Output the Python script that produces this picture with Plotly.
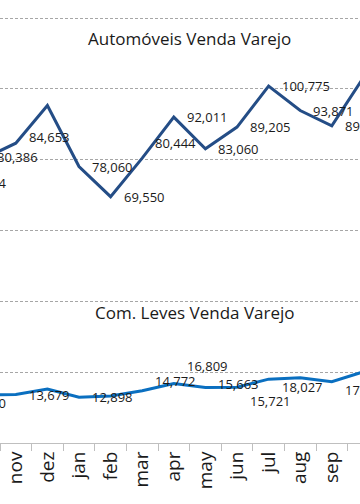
import plotly.graph_objects as go

months = ["sep", "oct", "nov", "dez", "jan", "feb", "mar", "apr", "may", "jun", "jul", "aug", "sep", "oct"]
autos = [72834, 80386, 84653, 95300, 78060, 69550, 80444, 92011, 83060, 89205, 100775, 93871, 89540, 103200]
leves = [10830, 13540, 13679, 15250, 12898, 13260, 14772, 16809, 15663, 15721, 18027, 18420, 17290, 20100]

# which points carry a visible data label, and their vertical nudge (px, + = up)
autos_label_shift = {0: 0, 1: 0, 2: 6, 4: 0, 5: 0, 6: 15, 7: 0, 8: 0, 9: 0, 10: 0, 11: 0, 12: 0}
leves_label_shift = {0: 0, 2: 0, 4: 0, 6: 10, 7: 17, 8: 4, 9: -14, 10: -8, 12: -8}

title_autos = "Automóveis Venda Varejo"
title_leves = "Com. Leves Venda Varejo"

FONT = "Open Sans"
x = list(range(len(months)))
X_MIN = 1.5  # first visible category boundary

fig = go.Figure()
fig.add_trace(go.Scatter(x=x, y=autos, mode="lines", line=dict(color="#244d86", width=3),
                         cliponaxis=True, hoverinfo="skip"))
fig.add_trace(go.Scatter(x=x, y=leves, mode="lines", line=dict(color="#0a6fc0", width=3),
                         cliponaxis=True, hoverinfo="skip"))

def fmt(v):
    return f"{v:,}"

annotations = []
for vals, shifts in ((autos, autos_label_shift), (leves, leves_label_shift)):
    # labels of points left of the visible area are only partly visible -> clipped scatter text
    hidden = [i for i in shifts if x[i] < X_MIN]
    if hidden:
        fig.add_trace(go.Scatter(x=[x[i] for i in hidden], y=[vals[i] for i in hidden],
                                 mode="markers+text",
                                 marker=dict(size=19, color="rgba(0,0,0,0)"),
                                 text=[fmt(vals[i]) for i in hidden], textposition="middle right",
                                 textfont=dict(family=FONT, size=13, color="#1a1a1a"),
                                 cliponaxis=True, hoverinfo="skip"))
    for i, s in shifts.items():
        if x[i] < X_MIN:
            continue
        annotations.append(dict(x=x[i], y=vals[i], xref="x", yref="y", text=fmt(vals[i]),
                                showarrow=False, xanchor="left", yanchor="middle",
                                xshift=11, yshift=s,
                                font=dict(family=FONT, size=13, color="#1a1a1a")))

annotations.append(dict(x=0.525, y=0.914, xref="paper", yref="paper", text=title_autos,
                        showarrow=False, xanchor="center", yanchor="middle",
                        font=dict(family=FONT, size=17, color="#1a1a1a")))
annotations.append(dict(x=0.542, y=0.2935, xref="paper", yref="paper", text=title_leves,
                        showarrow=False, xanchor="center", yanchor="middle",
                        font=dict(family=FONT, size=17, color="#1a1a1a")))

fig.update_layout(
    width=360, height=504,
    margin=dict(l=0, r=0, t=0, b=61, pad=0),
    paper_bgcolor="white", plot_bgcolor="white",
    showlegend=False,
    annotations=annotations,
    xaxis=dict(
        range=[X_MIN, X_MIN + 360 / 31.6],
        tickmode="array", tickvals=x, ticktext=months, tickangle=-90,
        ticks="", ticklen=0,
        tickfont=dict(family=FONT, size=19, color="#1a1a1a"),
        showgrid=False, zeroline=False,
        showline=True, linecolor="#bfbfbf", linewidth=1,
        minor=dict(tickmode="array", tickvals=[v + 0.5 for v in x], ticks="outside",
                   ticklen=7, tickcolor="#bfbfbf", tickwidth=1, showgrid=False),
    ),
    yaxis=dict(
        range=[0, 125082], tickmode="linear", tick0=0, dtick=20000,
        showticklabels=False, ticks="",
        showgrid=True, gridcolor="#a6a6a6", gridwidth=1, griddash="3px,2px",
        zeroline=False, showline=False,
    ),
)

fig.write_html("out.html", config={"displayModeBar": False},
               post_script="document.body.style.margin='0px';")
